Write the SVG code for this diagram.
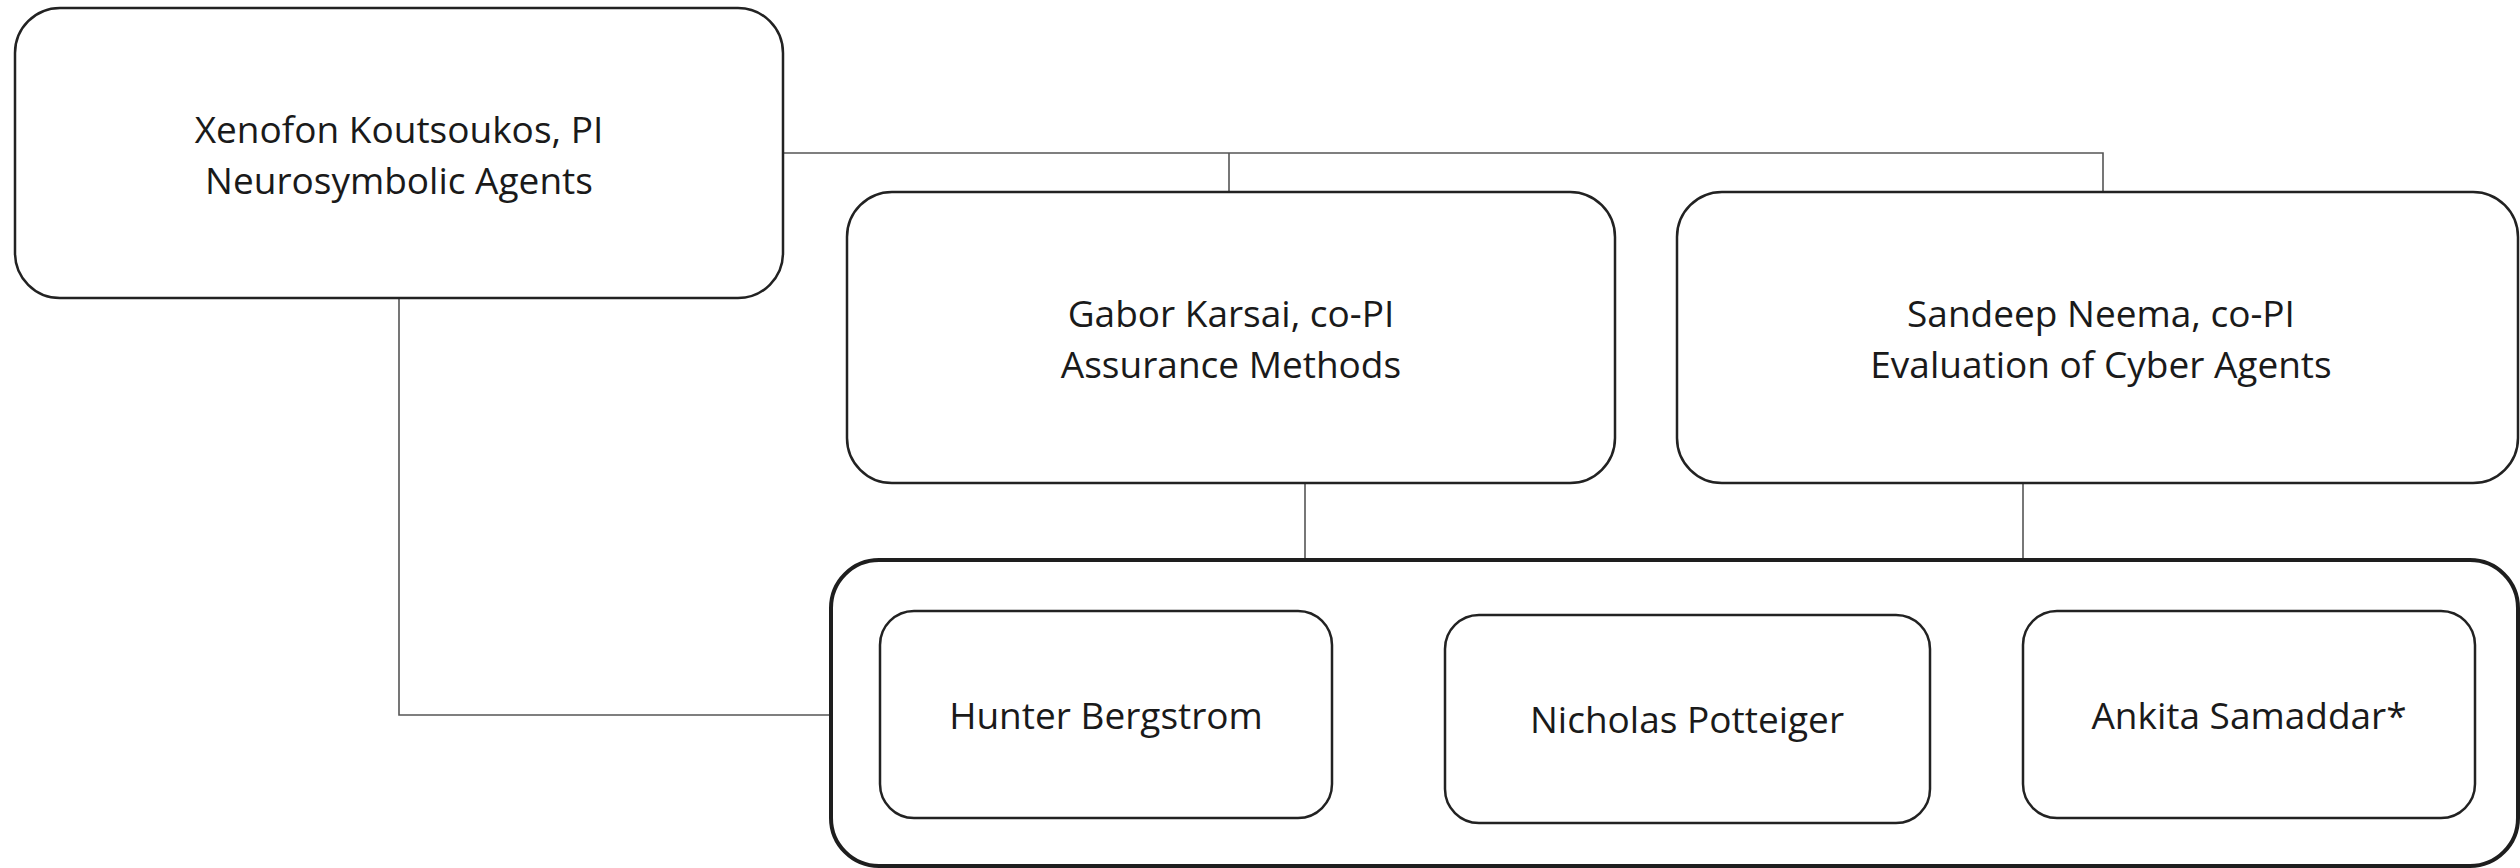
<svg xmlns="http://www.w3.org/2000/svg" width="2520" height="868" viewBox="0 0 2520 868">
  <style>
    .box { fill: #ffffff; stroke: #222222; stroke-width: 2.5; }
    .group { fill: #ffffff; stroke: #1e1e1e; stroke-width: 4; }
    .link { fill: none; stroke: #555555; stroke-width: 1.6; }
    .label { font-family: "Open Sans", "Liberation Sans", sans-serif; font-size: 37px; fill: #1a1a1a; text-anchor: middle; }
  </style>
  <rect width="2520" height="868" fill="#ffffff"/>

  <!-- connectors -->
  <g id="connectors">
    <polyline class="link" points="783,153 2103,153 2103,192"/>
    <line class="link" x1="1229" y1="153" x2="1229" y2="192"/>
    <line class="link" x1="1305" y1="483" x2="1305" y2="567"/>
    <line class="link" x1="2023" y1="483" x2="2023" y2="560"/>
    <polyline class="link" points="399,298 399,715 830,715"/>
  </g>

  <!-- principal investigator -->
  <g id="node-koutsoukos">
    <rect class="box" x="15" y="8" width="768" height="290" rx="45" ry="45"/>
    <text class="label" x="399" y="143">Xenofon Koutsoukos, PI</text>
    <text class="label" x="399" y="194">Neurosymbolic Agents</text>
  </g>

  <!-- co-PIs -->
  <g id="node-karsai">
    <rect class="box" x="847" y="192" width="768" height="291" rx="45" ry="45"/>
    <text class="label" x="1231" y="327">Gabor Karsai, co-PI</text>
    <text class="label" x="1231" y="378">Assurance Methods</text>
  </g>
  <g id="node-neema">
    <rect class="box" x="1677" y="192" width="841" height="291" rx="45" ry="45"/>
    <text class="label" x="2101" y="327">Sandeep Neema, co-PI</text>
    <text class="label" x="2101" y="378">Evaluation of Cyber Agents</text>
  </g>

  <!-- students -->
  <g id="node-students">
    <rect class="group" x="831" y="560" width="1687" height="306" rx="48" ry="48"/>
  </g>
  <g id="node-bergstrom">
    <rect class="box" x="880" y="611" width="452" height="207" rx="34" ry="34"/>
    <text class="label" x="1106" y="729">Hunter Bergstrom</text>
  </g>
  <g id="node-potteiger">
    <rect class="box" x="1445" y="615" width="485" height="208" rx="34" ry="34"/>
    <text class="label" x="1687" y="733">Nicholas Potteiger</text>
  </g>
  <g id="node-samaddar">
    <rect class="box" x="2023" y="611" width="452" height="207" rx="34" ry="34"/>
    <text class="label" x="2249" y="729">Ankita Samaddar*</text>
  </g>
</svg>
